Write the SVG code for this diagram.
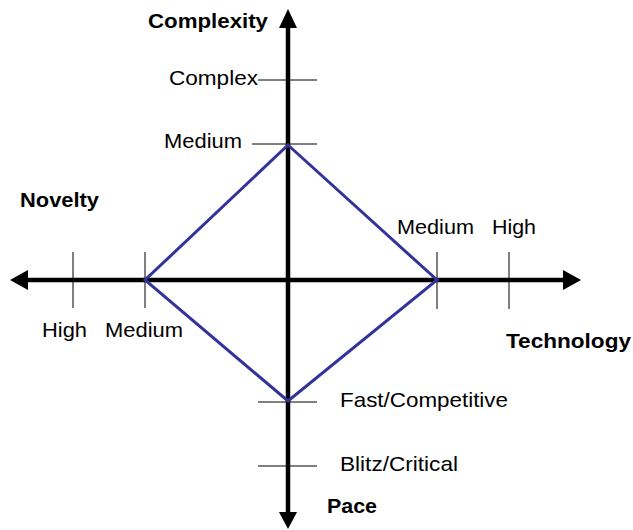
<svg xmlns="http://www.w3.org/2000/svg" width="633" height="530" viewBox="0 0 633 530">
<style>
.lbl{font-family:"Liberation Sans",Arial,sans-serif;font-size:21px;fill:#000}
.ttl{font-family:"Liberation Sans",Arial,sans-serif;font-size:21px;font-weight:bold;fill:#000}
.tick{stroke:#000;stroke-width:1}
.axis{stroke:#000;stroke-width:4.5;fill:none}
.head{fill:#000}
</style>
<rect width="633" height="530" fill="#fff"/>
<g id="connectors">
  <line class="axis" x1="24" y1="280" x2="566" y2="280"/>
  <polygon class="head" points="10,280 28,270 28,290"/>
  <polygon class="head" points="581,280 563,270 563,290"/>
  <line class="axis" x1="288" y1="24" x2="288" y2="515"/>
  <polygon class="head" points="288,9 279,28 297,28"/>
  <polygon class="head" points="288,529 279,512 297,512"/>
  <g id="ticks">
    <line class="tick" x1="258" y1="80" x2="317" y2="80"/>
    <line class="tick" x1="252" y1="144" x2="317" y2="144"/>
    <line class="tick" x1="258" y1="402" x2="317" y2="402"/>
    <line class="tick" x1="258" y1="466" x2="317" y2="466"/>
    <line class="tick" x1="73" y1="252" x2="73" y2="308"/>
    <line class="tick" x1="145" y1="252" x2="145" y2="308"/>
    <line class="tick" x1="437" y1="252" x2="437" y2="309"/>
    <line class="tick" x1="509" y1="252" x2="509" y2="309"/>
  </g>
</g>
<g id="diamond">
  <polygon points="288,145 437,280 288,401 145,280" fill="none" stroke="#333399" stroke-width="3" stroke-linejoin="miter"/>
</g>
<g id="complexity">
  <text class="ttl" x="148" y="28" textLength="120" lengthAdjust="spacingAndGlyphs">Complexity</text>
  <text class="lbl" x="169" y="85" textLength="89" lengthAdjust="spacingAndGlyphs">Complex</text>
  <text class="lbl" x="164" y="148" textLength="78" lengthAdjust="spacingAndGlyphs">Medium</text>
</g>
<g id="novelty">
  <text class="ttl" x="20" y="207" textLength="79" lengthAdjust="spacingAndGlyphs">Novelty</text>
  <text class="lbl" x="42" y="337" textLength="45" lengthAdjust="spacingAndGlyphs">High</text>
  <text class="lbl" x="105" y="337" textLength="78" lengthAdjust="spacingAndGlyphs">Medium</text>
</g>
<g id="technology">
  <text class="lbl" x="397" y="234" textLength="77" lengthAdjust="spacingAndGlyphs">Medium</text>
  <text class="lbl" x="492" y="234" textLength="44" lengthAdjust="spacingAndGlyphs">High</text>
  <text class="ttl" x="506" y="348" textLength="125" lengthAdjust="spacingAndGlyphs">Technology</text>
</g>
<g id="pace">
  <text class="lbl" x="340" y="407" textLength="168" lengthAdjust="spacingAndGlyphs">Fast/Competitive</text>
  <text class="lbl" x="340" y="471" textLength="118" lengthAdjust="spacingAndGlyphs">Blitz/Critical</text>
  <text class="ttl" x="327" y="513" textLength="50" lengthAdjust="spacingAndGlyphs">Pace</text>
</g>
</svg>
